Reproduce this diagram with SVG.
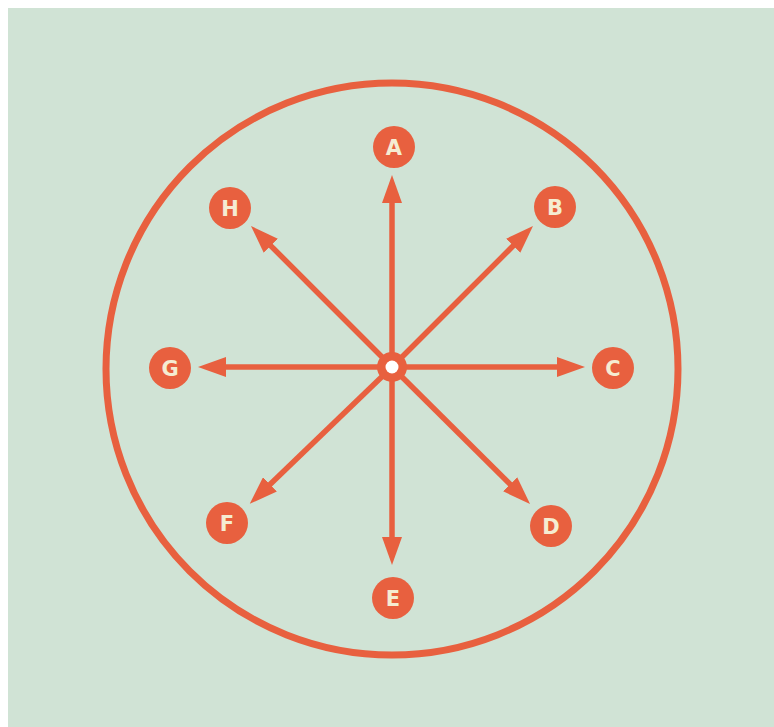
<svg xmlns="http://www.w3.org/2000/svg" width="774" height="727" viewBox="0 0 774 727">
<defs>
<style>
.ln{stroke:#e8603f;stroke-width:5.5;fill:none;marker-end:url(#ah)}
.nd{fill:#e8603f}
.lb{fill:#f5ecd2;font-family:"DejaVu Sans",sans-serif;font-weight:bold;font-size:21px;text-anchor:middle;dominant-baseline:central}
</style>
<marker id="ah" viewBox="0 0 28 20" refX="13" refY="10" markerWidth="28" markerHeight="20" orient="auto" markerUnits="userSpaceOnUse">
<path d="M0,0 L28,10 L0,20 z" fill="#e8603f"/>
</marker>
</defs>
<rect x="0" y="0" width="774" height="727" fill="#ffffff"/>
<rect x="8" y="8" width="766" height="719" fill="#d0e3d5"/>
<circle cx="392" cy="369" r="286" fill="none" stroke="#e8603f" stroke-width="7"/>
<g id="connectors">
<line class="ln" x1="392" y1="367" x2="392" y2="190"/>
<line class="ln" x1="392" y1="367" x2="522.4" y2="236.6"/>
<line class="ln" x1="392" y1="367" x2="570" y2="367"/>
<line class="ln" x1="392" y1="367" x2="519.4" y2="493.4"/>
<line class="ln" x1="392" y1="367" x2="392" y2="550"/>
<line class="ln" x1="392" y1="367" x2="260.6" y2="493.4"/>
<line class="ln" x1="392" y1="367" x2="213" y2="367"/>
<line class="ln" x1="392" y1="367" x2="261.6" y2="236.6"/>
</g>
<g id="center">
<circle cx="392" cy="367" r="15" fill="#e8603f"/>
<circle cx="392" cy="367" r="6.5" fill="#ffffff"/>
</g>
<g id="A"><circle class="nd" cx="394" cy="147" r="21"/><text class="lb" x="394" y="148">A</text></g>
<g id="B"><circle class="nd" cx="555" cy="207" r="21"/><text class="lb" x="555" y="208">B</text></g>
<g id="C"><circle class="nd" cx="613" cy="368" r="21"/><text class="lb" x="613" y="369">C</text></g>
<g id="D"><circle class="nd" cx="551" cy="526" r="21"/><text class="lb" x="551" y="527">D</text></g>
<g id="E"><circle class="nd" cx="393" cy="598" r="21"/><text class="lb" x="393" y="599">E</text></g>
<g id="F"><circle class="nd" cx="227" cy="523" r="21"/><text class="lb" x="227" y="524">F</text></g>
<g id="G"><circle class="nd" cx="170" cy="368" r="21"/><text class="lb" x="170" y="369">G</text></g>
<g id="H"><circle class="nd" cx="230" cy="208" r="21"/><text class="lb" x="230" y="209">H</text></g>
</svg>
